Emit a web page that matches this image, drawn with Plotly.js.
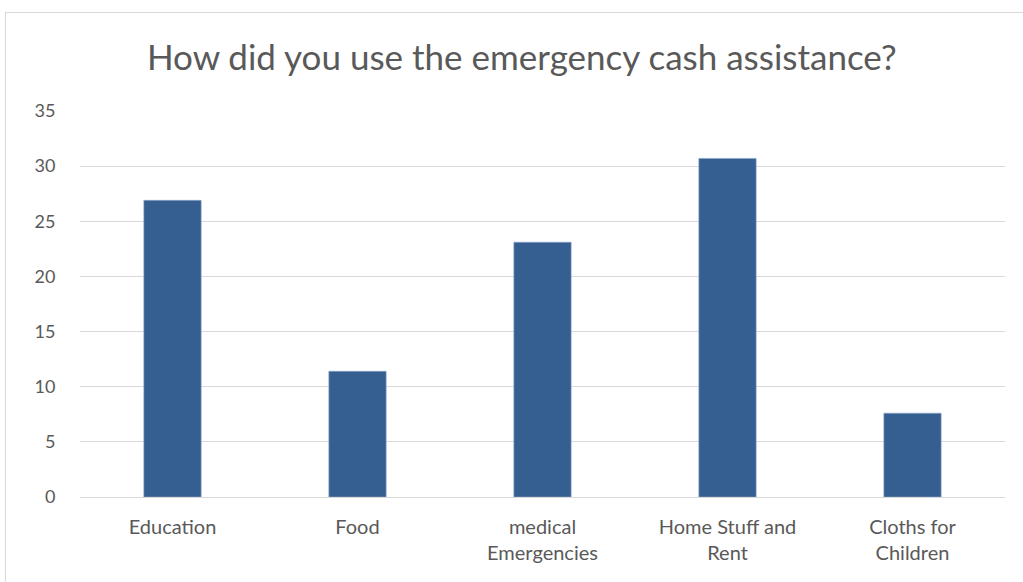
<!DOCTYPE html>
<html>
<head>
<meta charset="utf-8">
<script src="https://cdn.plot.ly/plotly-3.0.1.min.js"></script>
<style>
html,body{margin:0;padding:0;background:#fff;overflow:hidden;}
#frame{position:absolute;left:5px;top:12px;width:1030px;height:600px;border:1px solid #d9d9d9;}
#chart{position:absolute;left:0;top:0;width:1023px;height:582px;}
</style>
</head>
<body>
<div id="frame"></div>
<div id="chart"></div>
<script>
const categories = ["Education", "Food", "medical<br>Emergencies", "Home Stuff and<br>Rent", "Cloths for<br>Children"];
const values = [26.9, 11.4, 23.1, 30.7, 7.6];
const yTicks = [0, 5, 10, 15, 20, 25, 30, 35];

const trace = {
  type: "bar",
  x: categories,
  y: values,
  marker: {color: "#365f91", line: {color: "#8ea9cc", width: 0.6}},
  hoverinfo: "skip"
};

const layout = {
  width: 1023, height: 582,
  paper_bgcolor: "rgba(0,0,0,0)",
  plot_bgcolor: "rgba(0,0,0,0)",
  margin: {l: 80, r: 18, t: 111, b: 85},
  bargap: 0.69,
  showlegend: false,
  font: {family: "Lato, 'Open Sans', sans-serif", color: "#595959"},
  title: {
    text: "How did you use the emergency cash assistance?",
    font: {family: "Lato, 'Open Sans', sans-serif", size: 35, color: "#595959"},
    x: 0.51, xanchor: "center", y: 0.9, yanchor: "middle"
  },
  xaxis: {
    type: "category",
    tickfont: {size: 20, color: "#595959"},
    showgrid: false,
    showline: true, linecolor: "#d9d9d9", linewidth: 1,
    ticks: "outside", ticklen: 12, tickcolor: "rgba(0,0,0,0)"
  },
  yaxis: {
    range: [0, 35],
    tickvals: yTicks,
    ticktext: yTicks.map(String),
    tickfont: {size: 18, color: "#595959"},
    showgrid: true, gridcolor: "#d9d9d9", gridwidth: 1,
    zeroline: false,
    showline: false,
    ticks: "outside", ticklen: 20, tickcolor: "rgba(0,0,0,0)"
  }
};

Plotly.newPlot("chart", [trace], layout, {displayModeBar: false, staticPlot: true});
</script>
</body>
</html>
